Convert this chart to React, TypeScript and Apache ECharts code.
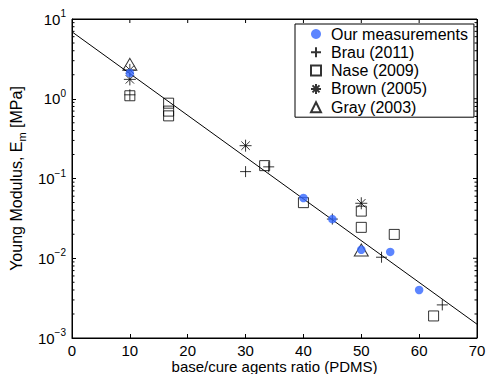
import React, { useEffect, useRef } from 'react';
import * as echarts from 'echarts';

// Our measurements
const ourX = [10, 40, 45, 50, 55, 60];
const ourY = [2.1, 0.057, 0.031, 0.0128, 0.012, 0.004];
// Brau (2011)
const brauX = [10, 30, 34, 45, 53.5, 64];
const brauY = [1.12, 0.122, 0.14, 0.031, 0.0103, 0.0026];
// Nase (2009)
const naseX = [10, 16.7, 16.7, 16.7, 33.3, 40, 50, 50, 55.7, 62.5];
const naseY = [1.09, 0.88, 0.7, 0.61, 0.145, 0.0498, 0.039, 0.0244, 0.0199, 0.00189];
// Brown (2005)
const brownX = [10, 10, 30, 50];
const brownY = [2.3, 1.75, 0.258, 0.0489];
// Gray (2003)
const grayX = [10, 50];
const grayY = [2.7, 0.0127];
// Fit line
const fitX = [0, 70];
const fitY = [6.9, 0.00149];
// Axis ranges, ticks mirrored on the top / right of the box, and minor log ticks
const xRange = [0, 70];
const yRange = [0.001, 10];
const xTopTicks = [10, 20, 30, 40, 50, 60];
const yMajorTicks = [0.01, 0.1, 1];
const minorTicks = [
  0.002, 0.003, 0.004, 0.005, 0.006, 0.007, 0.008, 0.009,
  0.02, 0.03, 0.04, 0.05, 0.06, 0.07, 0.08, 0.09,
  0.2, 0.3, 0.4, 0.5, 0.6, 0.7, 0.8, 0.9,
  2, 3, 4, 5, 6, 7, 8, 9,
];
const seriesNames = ['Our measurements', 'Brau (2011)', 'Nase (2009)', 'Brown (2005)', 'Gray (2003)'];

const FONT = '"Liberation Sans", Arial, Helvetica, sans-serif';
const PLUS = 'path://M0,5L10,5M5,0L5,10';
const STAR = 'path://M0,5L10,5M5,0L5,10M1.5,1.5L8.5,8.5M1.5,8.5L8.5,1.5';

const zip = (xs: number[], ys: number[]) => xs.map((x, i) => [x, ys[i]]);

export default function App() {
  const ref = useRef<HTMLDivElement>(null);
  useEffect(() => {
    const chart = echarts.init(ref.current!, null, { renderer: 'svg' });
    const supFmt = (v: number) => {
      const e = Math.round(Math.log10(v));
      return '{b|10}{s|' + (e < 0 ? '\u2212' + -e : String(e)) + '}';
    };
    const hollow = { color: 'rgba(0,0,0,0)', borderColor: '#000', borderWidth: 1 };
    const option: any = {
      animation: false,
      backgroundColor: '#fff',
      grid: {
        left: 72, right: 9, top: 19, bottom: 36, containLabel: false, outerBoundsMode: 'none',
        show: true, borderColor: '#000', borderWidth: 1, backgroundColor: 'transparent',
      },
      legend: {
        orient: 'vertical',
        left: 295,
        top: 24,
        backgroundColor: '#fff',
        borderColor: '#000',
        borderWidth: 1,
        borderRadius: 0,
        padding: [2, 6, 2, 15],
        itemGap: 2.3,
        itemWidth: 10,
        itemHeight: 10,
        textStyle: { fontSize: 16, fontFamily: FONT, color: '#000', padding: [0, 0, 0, 5] },
        data: seriesNames,
        z: 20,
      },
      xAxis: {
        type: 'value', min: xRange[0], max: xRange[1], interval: 10,
        position: 'bottom',
        name: 'base/cure agents ratio (PDMS)',
        nameLocation: 'middle', nameGap: 21, nameMoveOverlap: false,
        nameTextStyle: { fontSize: 15, fontFamily: FONT, color: '#000', lineHeight: 15, verticalAlign: 'top' },
        axisLine: { show: true, onZero: false, lineStyle: { color: '#000', width: 1 } },
        axisTick: { show: true, inside: true, length: 4, lineStyle: { color: '#000' } },
        axisLabel: { fontSize: 15, fontFamily: FONT, color: '#000', margin: 5, lineHeight: 15 },
        splitLine: { show: false },
      },
      yAxis: {
        type: 'log', logBase: 10, min: yRange[0], max: yRange[1], splitNumber: 4,
        position: 'left',
        name: '{a|Young Modulus, E}{m|m}{a| [MPa]}',
        nameLocation: 'middle', nameGap: 44,
        nameTextStyle: {
          fontSize: 16, fontFamily: FONT, color: '#000',
          rich: {
            a: { fontSize: 16, fontFamily: FONT, color: '#000', lineHeight: 16, verticalAlign: 'middle' },
            m: { fontSize: 11, fontFamily: FONT, color: '#000', lineHeight: 11, padding: [11, 0, 0, 0], verticalAlign: 'middle' },
          },
        },
        axisLine: { show: true, onZero: false, lineStyle: { color: '#000', width: 1 } },
        axisTick: { show: true, inside: true, length: 4, lineStyle: { color: '#000' } },
        axisLabel: {
          formatter: supFmt, margin: 6,
          rich: {
            b: { fontSize: 15, fontFamily: FONT, color: '#000', lineHeight: 15, verticalAlign: 'middle' },
            s: { fontSize: 10, fontFamily: FONT, color: '#000', lineHeight: 10, padding: [0, 0, 11, 0], verticalAlign: 'middle' },
          },
        },
        splitLine: { show: false },
      },
      series: [
        {
          type: 'line', name: 'fit', data: zip(fitX, fitY), showSymbol: false,
          lineStyle: { color: '#000', width: 1 }, z: 1,
          markLine: {
            silent: true, symbol: 'none', animation: false,
            label: { show: false },
            lineStyle: { color: '#000', width: 1, type: 'solid' },
            data: [{ yAxis: yRange[1] }, { xAxis: xRange[1] }],
          },
        },
        {
          // minor log ticks (both sides) and major ticks mirrored on the right
          type: 'custom', clip: false, z: 6,
          data: [...minorTicks, ...yMajorTicks].map((v) => [xRange[0], v]),
          renderItem: (params: any, api: any) => {
            const y = api.coord([xRange[0], api.value(1)])[1];
            const cs = params.coordSys;
            const major = yMajorTicks.indexOf(api.value(1)) >= 0;
            const len = major ? 4 : 2.5;
            const children: any[] = [
              { type: 'line', shape: { x1: cs.x + cs.width - len, y1: y, x2: cs.x + cs.width, y2: y }, style: { stroke: '#000', lineWidth: 1 } },
            ];
            if (!major) children.push({ type: 'line', shape: { x1: cs.x, y1: y, x2: cs.x + len, y2: y }, style: { stroke: '#000', lineWidth: 1 } });
            return { type: 'group', children };
          },
        },
        {
          // x ticks mirrored on the top
          type: 'custom', clip: false, z: 6,
          data: xTopTicks.map((v) => [v, yRange[1]]),
          renderItem: (params: any, api: any) => {
            const x = api.coord([api.value(0), yRange[1]])[0];
            const cs = params.coordSys;
            return { type: 'line', shape: { x1: x, y1: cs.y, x2: x, y2: cs.y + 4 }, style: { stroke: '#000', lineWidth: 1 } };
          },
        },
        {
          type: 'scatter', name: 'Our measurements', data: zip(ourX, ourY),
          symbol: 'circle', symbolSize: 8.5, itemStyle: { color: '#3366ff' }, z: 5,
        },
        {
          type: 'scatter', name: 'Brau (2011)', data: zip(brauX, brauY),
          symbol: PLUS, symbolSize: 11, itemStyle: hollow, z: 4,
        },
        {
          type: 'scatter', name: 'Nase (2009)', data: zip(naseX, naseY),
          symbol: 'rect', symbolSize: 10, itemStyle: hollow, z: 4,
        },
        {
          type: 'scatter', name: 'Brown (2005)', data: zip(brownX, brownY),
          symbol: STAR, symbolSize: 12, itemStyle: hollow, z: 4,
        },
        {
          type: 'scatter', name: 'Gray (2003)', data: zip(grayX, grayY),
          symbol: 'triangle', symbolSize: [14, 12], itemStyle: hollow, z: 4,
        },
      ],
    };
    chart.setOption(option);
    return () => chart.dispose();
  }, []);
  return <div ref={ref} style={{ position: 'absolute', left: 0, top: 0, width: 486, height: 374 }} />;
}
